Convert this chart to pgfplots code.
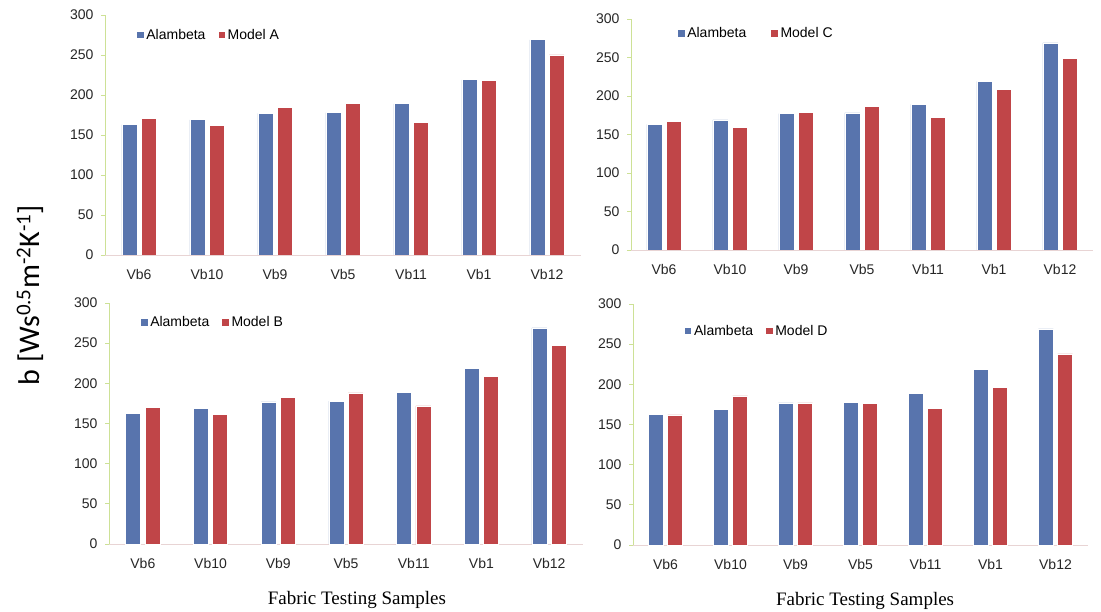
\documentclass[border=0pt]{standalone}
\usepackage{fontspec}
\setmainfont{Liberation Sans}
\newfontfamily\timesf{Liberation Serif}
\newfontfamily\calib{Carlito}
\usepackage{pgfplots}
\pgfplotsset{compat=1.18}
\definecolor{barblue}{RGB}{88,116,173}
\definecolor{barred}{RGB}{192,69,72}
\definecolor{ygreen}{RGB}{205,225,150}
\definecolor{xpink}{RGB}{232,212,212}
\pgfplotsset{
  panel/.style={
    scale only axis,
    ybar,
    bar width=15pt,
    ymin=0, ymax=300,
    ytick={0,50,...,300},
    xmin=-0.5, xmax=6.5,
    xtick={0,...,6},
    xticklabels={Vb6,Vb10,Vb9,Vb5,Vb11,Vb1,Vb12},
    axis x line=bottom, axis y line=left,
    axis line style={-},
    x axis line style={draw=xpink, line width=0.8pt},
    y axis line style={draw=ygreen, line width=0.8pt},
    xtick style={draw=none},
    ytick style={draw=ygreen, line width=0.8pt},
    tick align=outside,
    major tick length=4pt,
    /pgf/number format/assume math mode=true,
    tick label style={font=\fontsize{14}{16}\selectfont, text=black!85},
    xticklabel style={yshift=-7pt},
    yticklabel style={xshift=-4pt},
    legend style={draw=none, fill=none, legend columns=2, anchor=west,
      font=\fontsize{14}{16}\selectfont,
      /tikz/every even column/.append style={column sep=10pt}},
    legend cell align=left,
    legend image code/.code={\fill[##1] (0pt,-3.8pt) rectangle (7.5pt,3.8pt);},
    every axis plot/.append style={draw=white, line width=0.6pt},
  },
  bluebar/.style={fill=barblue, bar shift=-9.7pt},
  redbar/.style={fill=barred, bar shift=9.7pt},
  fabric/.style={xlabel={Fabric Testing Samples},
    xlabel style={at={(axis description cs:#1,0)}, anchor=center, yshift=-56pt,
      font=\timesf\fontsize{19}{22}\selectfont}},
}
\begin{document}
\begin{tikzpicture}
\path[use as bounding box] (0,0) rectangle (1101pt,611pt);
% Panel A
\begin{axis}[panel, at={(105pt,356pt)}, anchor=south west, width=476pt, height=240pt,
  legend style={at={(axis description cs:0.059,0.917)}}]
\addplot[bluebar] coordinates {(0,163) (1,169) (2,177) (3,178) (4,189) (5,219) (6,269)};
\addplot[redbar] coordinates {(0,170.5) (1,162) (2,184) (3,189) (4,166) (5,218) (6,250)};
\legend{Alambeta, Model A}
\end{axis}
% Panel C
\begin{axis}[panel, at={(631pt,361pt)}, anchor=south west, width=462pt, height=231pt,
  legend style={at={(axis description cs:0.093,0.939)}, /tikz/every even column/.append style={column sep=22pt}}]
\addplot[bluebar] coordinates {(0,163) (1,169) (2,177) (3,178) (4,189) (5,219) (6,269)};
\addplot[redbar] coordinates {(0,167.5) (1,159) (2,179) (3,186) (4,172) (5,209) (6,248.5)};
\legend{Alambeta, Model C}
\end{axis}
% Panel B
\begin{axis}[panel, fabric=0.523, at={(109pt,67pt)}, anchor=south west, width=474pt, height=241pt,
  legend style={at={(axis description cs:0.059,0.921)}}]
\addplot[bluebar] coordinates {(0,163) (1,169) (2,177) (3,178) (4,189) (5,219) (6,269)};
\addplot[redbar] coordinates {(0,170) (1,161) (2,182) (3,188) (4,172) (5,209) (6,247)};
\legend{Alambeta, Model B}
\end{axis}
% Panel D
\begin{axis}[panel, fabric=0.51, at={(633pt,66pt)}, anchor=south west, width=455pt, height=241pt,
  legend style={at={(axis description cs:0.105,0.888)}}]
\addplot[bluebar] coordinates {(0,163) (1,169) (2,177) (3,178) (4,189) (5,219) (6,269)};
\addplot[redbar] coordinates {(0,162) (1,185.5) (2,177) (3,176) (4,170.5) (5,196) (6,238)};
\legend{Alambeta, Model D}
\end{axis}
\node[rotate=90, font=\calib\fontsize{30}{36}\selectfont] at (30pt,316pt)
  {b [Ws\textsuperscript{0.5}m\textsuperscript{-2}K\textsuperscript{-1}]};
\end{tikzpicture}
\end{document}
